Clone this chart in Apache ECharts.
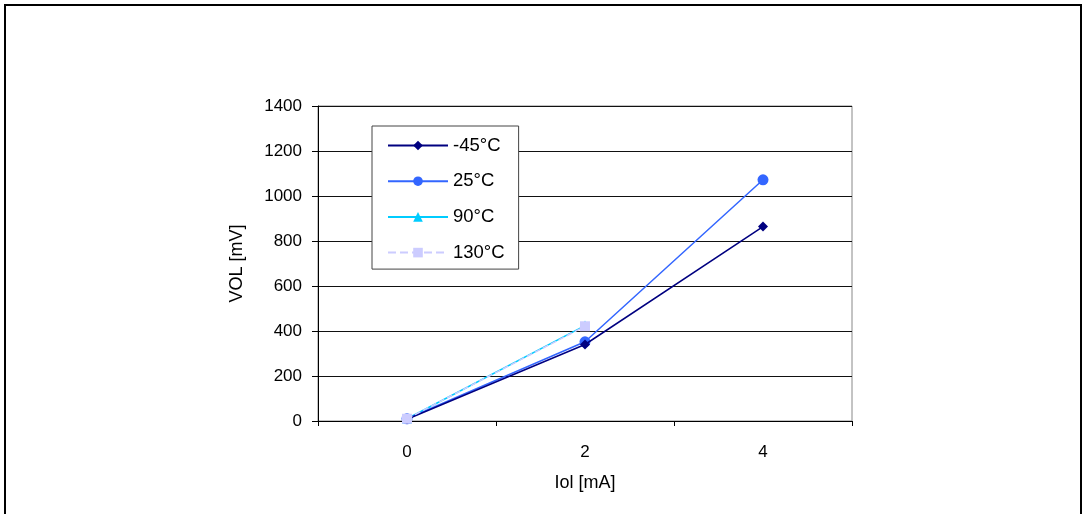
<!DOCTYPE html>
<html>
<head>
<meta charset="utf-8">
<script src="https://cdn.jsdelivr.net/npm/echarts@6/dist/echarts.min.js"></script>
<style>
  html, body { margin: 0; padding: 0; background: #fff; }
  #chart { width: 1082px; height: 514px; }
</style>
</head>
<body>
<div id="chart"></div>
<script>
// Iol [mA] categories and VOL [mV] readings per temperature
var currents = ['0', '2', '4']
var seriesNames = ['-45°C', '25°C', '90°C', '130°C']
var vol_m45 = [8, 340, 864]
var vol_25 = [10, 352, 1072]
var vol_90 = [10, 424, null]
var vol_130 = [10, 421, null]
var yTicks = { min: 0, max: 1400, interval: 200 }

var chart = echarts.init(document.getElementById('chart'))

var font = 'Liberation Sans, Arial, sans-serif'

chart.setOption({
  backgroundColor: '#fff',
  animation: false,
  textStyle: { fontFamily: font },
  graphic: [
    {
      type: 'rect',
      shape: { x: 5, y: 5, width: 1076, height: 530 },
      style: { fill: 'none', stroke: '#000', lineWidth: 2 },
      silent: true
    }
  ],
  grid: {
    left: 318,
    top: 106,
    width: 534,
    height: 315,
    show: true,
    borderColor: '#888',
    borderWidth: 1,
    backgroundColor: '#fff'
  },
  legend: {
    orient: 'vertical',
    left: 372,
    top: 126,
    backgroundColor: '#fff',
    borderColor: '#444',
    borderWidth: 1,
    padding: [10, 14, 7, 15],
    itemWidth: 60,
    itemHeight: 12,
    itemGap: 16.7,
    textStyle: { fontFamily: font, fontSize: 18.5, color: '#000' },
    data: seriesNames
  },
  xAxis: {
    type: 'category',
    data: currents,
    boundaryGap: true,
    name: 'Iol [mA]',
    nameLocation: 'middle',
    nameGap: 53,
    nameTextStyle: { fontFamily: font, fontSize: 18, color: '#000' },
    axisLine: { lineStyle: { color: '#000', width: 1 } },
    axisTick: { show: true, length: 5, inside: false, lineStyle: { color: '#000' } },
    axisLabel: { fontFamily: font, fontSize: 17, color: '#000', margin: 23 },
    splitLine: { show: false }
  },
  yAxis: {
    type: 'value',
    min: yTicks.min,
    max: yTicks.max,
    interval: yTicks.interval,
    name: 'VOL [mV]',
    nameLocation: 'middle',
    nameGap: 72,
    nameTextStyle: { fontFamily: font, fontSize: 18, color: '#000' },
    axisLine: { show: true, lineStyle: { color: '#000', width: 1 } },
    axisTick: { show: true, length: 6, lineStyle: { color: '#000' } },
    axisLabel: {
      fontFamily: font,
      fontSize: 17,
      color: '#000',
      margin: 16,
      formatter: function (v) { return String(v) }
    },
    splitLine: { show: true, lineStyle: { color: '#111', width: 1 } }
  },
  series: [
    {
      name: seriesNames[0],
      type: 'line',
      data: vol_m45,
      symbol: 'diamond',
      symbolSize: 10,
      color: '#000080',
      lineStyle: { width: 1.5, color: '#000080' },
      z: 4
    },
    {
      name: seriesNames[1],
      type: 'line',
      data: vol_25,
      symbol: 'circle',
      symbolSize: 11,
      color: '#3366ff',
      lineStyle: { width: 1.5, color: '#3366ff' },
      z: 3
    },
    {
      name: seriesNames[2],
      type: 'line',
      data: vol_90,
      symbol: 'triangle',
      symbolSize: 10,
      color: '#00ccff',
      lineStyle: { width: 1.5, color: '#00ccff' },
      z: 2
    },
    {
      name: seriesNames[3],
      type: 'line',
      data: vol_130,
      symbol: 'rect',
      symbolSize: 10,
      color: '#ccccff',
      lineStyle: { width: 1.5, color: '#ccccff', type: 'dashed' },
      z: 5
    }
  ]
})
</script>
</body>
</html>
